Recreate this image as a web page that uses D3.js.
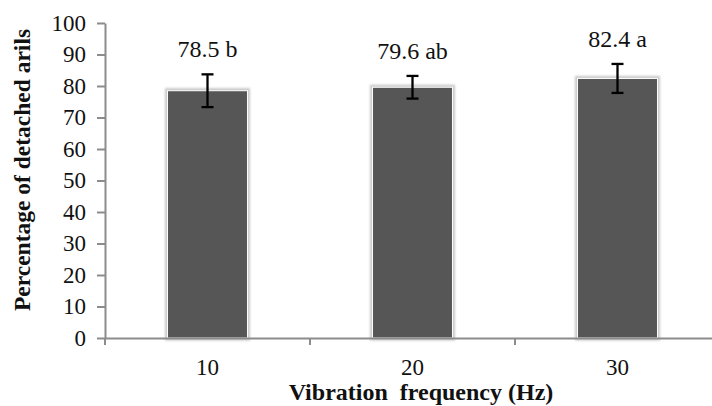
<!DOCTYPE html>
<html>
<head>
<meta charset="utf-8">
<script src="https://cdn.jsdelivr.net/npm/d3@7"></script>
<style>
  html, body { margin: 0; padding: 0; background: #fff; }
  svg { display: block; }
  svg text { font-family: "Liberation Serif", "Times New Roman", Tinos !important; }
</style>
</head>
<body>
<svg id="chart" width="712" height="406"></svg>
<script>
const categories = ["10", "20", "30"];
const means = [78.5, 79.6, 82.4];
const errors = [5.2, 3.6, 4.6];
const letters = ["b", "ab", "a"];
const yTicks = [0, 10, 20, 30, 40, 50, 60, 70, 80, 90, 100];

const svg = d3.select("#chart");
const axisColor = "#8c8c8c";

const defs = svg.append("defs");
const glow = defs.append("filter").attr("id", "glow")
  .attr("x", "-20%").attr("y", "-20%").attr("width", "140%").attr("height", "140%");
glow.append("feMorphology").attr("in", "SourceAlpha").attr("operator", "dilate").attr("radius", 2).attr("result", "d");
glow.append("feGaussianBlur").attr("in", "d").attr("stdDeviation", 1.2).attr("result", "b");
glow.append("feFlood").attr("flood-color", "#c8c8c8");
glow.append("feComposite").attr("in2", "b").attr("operator", "in").attr("result", "s");
const m = glow.append("feMerge");
m.append("feMergeNode").attr("in", "s");
m.append("feMergeNode").attr("in", "SourceGraphic");

const y = d3.scaleLinear().domain([0, 100]).range([338, 23]);
const x = d3.scaleBand().domain(categories).range([105, 720])
  .paddingInner(0.61).paddingOuter(0.305);

// bars
svg.append("g").selectAll("rect").data(categories).join("rect")
  .attr("x", d => x(d))
  .attr("y", (d, i) => y(means[i]))
  .attr("width", x.bandwidth())
  .attr("height", (d, i) => y(0) - y(means[i]))
  .attr("fill", "#565656")
  .attr("stroke", "#ffffff")
  .attr("stroke-width", 1)
  .attr("filter", "url(#glow)");

// y axis
const yAxis = svg.append("g").attr("transform", "translate(105,0)")
  .call(d3.axisLeft(y).tickValues(yTicks).tickSize(8).tickSizeOuter(0).tickPadding(11));
yAxis.attr("font-family", null);
yAxis.select(".domain").attr("stroke", axisColor).attr("stroke-width", 2);
yAxis.selectAll(".tick line").attr("stroke", axisColor).attr("stroke-width", 2);
yAxis.selectAll(".tick text").attr("font-size", 23).attr("fill", "#111");

// x axis
const xAxis = svg.append("g").attr("transform", "translate(0,338)")
  .call(d3.axisBottom(x).tickSize(0).tickSizeOuter(0).tickPadding(21));
xAxis.attr("font-family", null);
xAxis.select(".domain").attr("stroke", axisColor).attr("stroke-width", 2);
xAxis.selectAll(".tick text").attr("font-size", 23).attr("fill", "#111");
// category boundary ticks
const bounds = d3.range(categories.length + 1).map(i => x.range()[0] + i * x.step());
xAxis.append("g").selectAll("line").data(bounds).join("line")
  .attr("x1", d => d).attr("x2", d => d).attr("y1", 0).attr("y2", 7)
  .attr("stroke", axisColor).attr("stroke-width", 2);

// error bars
const eb = svg.append("g").attr("stroke", "#000").attr("stroke-width", 2.3);
categories.forEach((c, i) => {
  const cx = x(c) + x.bandwidth() / 2;
  const top = y(means[i] + errors[i]);
  const bot = y(means[i] - errors[i]);
  eb.append("line").attr("x1", cx).attr("x2", cx).attr("y1", top).attr("y2", bot);
  eb.append("line").attr("x1", cx - 6).attr("x2", cx + 6).attr("y1", top).attr("y2", top);
  eb.append("line").attr("x1", cx - 6).attr("x2", cx + 6).attr("y1", bot).attr("y2", bot);
});

// data labels
svg.append("g").selectAll("text").data(categories).join("text")
  .attr("x", d => x(d) + x.bandwidth() / 2)
  .attr("y", (d, i) => y(means[i] + errors[i]) - 17)
  .attr("text-anchor", "middle")
  .attr("font-size", 24).attr("fill", "#111")
  .text((d, i) => means[i].toFixed(1) + " " + letters[i]);

// axis titles
svg.append("text")
  .attr("x", 421).attr("y", 400)
  .attr("text-anchor", "middle")
  .attr("font-size", 24).attr("font-weight", "bold").attr("fill", "#111")
  .text("Vibration\u00a0 frequency (Hz)");

svg.append("text")
  .attr("transform", "translate(30,170) rotate(-90)")
  .attr("text-anchor", "middle")
  .attr("font-size", 23.5).attr("font-weight", "bold").attr("fill", "#111")
  .text("Percentage of detached arils");
</script>
</body>
</html>
